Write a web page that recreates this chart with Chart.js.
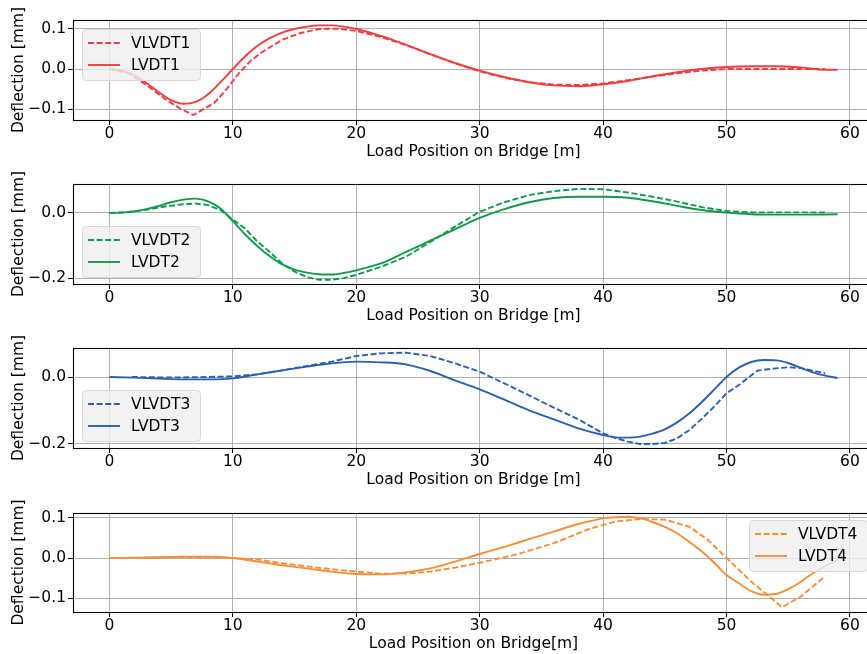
<!DOCTYPE html>
<html>
<head>
<meta charset="utf-8">
<script src="https://cdn.jsdelivr.net/npm/chart.js@4.4.0/dist/chart.umd.min.js"></script>
<style>
  html, body { margin: 0; padding: 0; background: #fff; overflow: hidden; }
  body { width: 867px; height: 654px; position: relative; }
  .panel { position: absolute; left: 0; }
</style>
</head>
<body>
<div class="panel" style="top:0px"><canvas id="c1" width="875" height="163"></canvas></div>
<div class="panel" style="top:164px"><canvas id="c2" width="875" height="163"></canvas></div>
<div class="panel" style="top:328px"><canvas id="c3" width="875" height="163"></canvas></div>
<div class="panel" style="top:493px"><canvas id="c4" width="875" height="162"></canvas></div>
<script>
// x ticks shared by all panels
const xTicks = [0, 10, 20, 30, 40, 50, 60];

// Panel 1
const lvdt1X = [0, 1, 2, 3, 4, 5, 6, 7, 8, 9, 10, 11, 12, 13, 14, 15, 16, 17, 18, 19, 20, 22, 24, 26, 28, 30, 32, 34, 36, 38, 40, 42, 44, 46, 48, 50, 52, 54, 56, 58, 59];
const lvdt1Y = [0, -0.004, -0.015, -0.035, -0.058, -0.078, -0.087, -0.082, -0.063, -0.033, 0.0, 0.032, 0.058, 0.077, 0.091, 0.1, 0.106, 0.109, 0.109, 0.106, 0.1, 0.083, 0.061, 0.037, 0.015, -0.004, -0.02, -0.033, -0.041, -0.043, -0.038, -0.03, -0.018, -0.008, 0.0, 0.005, 0.007, 0.007, 0.004, -0.002, -0.002];
const vlvdt1X = [0, 1.5, 3, 4.5, 5.8, 6.8, 8.5, 9.5, 10.5, 11.5, 12.5, 14, 15.5, 17, 18.5, 20, 22, 24, 26, 28, 30, 32, 34, 36, 38, 40, 42, 44, 46, 48, 50, 52, 54, 56, 58];
const vlvdt1Y = [0, -0.01, -0.04, -0.075, -0.1, -0.115, -0.085, -0.05, -0.01, 0.022, 0.045, 0.073, 0.09, 0.1, 0.101, 0.095, 0.08, 0.06, 0.037, 0.014, -0.006, -0.022, -0.033, -0.039, -0.04, -0.036, -0.028, -0.019, -0.011, -0.004, 0.0, 0.0, 0.0, 0.0, 0.0];
const yTicks1 = [-0.1, 0.0, 0.1];

// Panel 2
const lvdt2X = [0, 1, 2, 3, 4, 5, 6, 7, 8, 9, 10, 11, 12, 13, 14, 15, 16, 17, 18, 19, 20, 22, 24, 26, 28, 30, 32, 34, 36, 38, 40, 42, 44, 46, 48, 50, 52, 54, 56, 59];
const lvdt2Y = [0, 0.001, 0.005, 0.012, 0.022, 0.033, 0.041, 0.044, 0.036, 0.014, -0.025, -0.066, -0.102, -0.133, -0.158, -0.174, -0.183, -0.188, -0.189, -0.184, -0.176, -0.155, -0.12, -0.085, -0.05, -0.015, 0.012, 0.033, 0.046, 0.05, 0.05, 0.047, 0.036, 0.022, 0.009, 0.001, -0.004, -0.005, -0.005, -0.004];
const vlvdt2X = [0, 1.5, 3, 4.5, 6, 7, 8, 9, 10, 11, 12, 13, 14, 15, 16, 17, 18, 19, 20, 22, 24, 26, 28, 30, 32, 34, 36, 38, 40, 42, 44, 46, 48, 50, 52, 54, 56, 58];
const vlvdt2Y = [0, 0.003, 0.01, 0.02, 0.027, 0.029, 0.024, 0.009, -0.02, -0.048, -0.088, -0.12, -0.155, -0.18, -0.197, -0.205, -0.205, -0.2, -0.19, -0.165, -0.135, -0.089, -0.042, 0.004, 0.033, 0.055, 0.067, 0.074, 0.073, 0.063, 0.05, 0.035, 0.018, 0.006, 0.002, 0.002, 0.002, 0.002];
const yTicks2 = [-0.2, 0.0];

// Panel 3
const lvdt3X = [0, 2, 4, 6, 8, 10, 12, 14, 16, 18, 20, 22, 24, 26, 28, 30, 32, 34, 36, 38, 40, 41, 42, 43, 44, 45, 46, 47, 48, 49, 50, 51, 52, 53, 54, 55, 56, 57, 58, 59];
const lvdt3Y = [0, -0.002, -0.005, -0.007, -0.007, -0.004, 0.008, 0.02, 0.031, 0.041, 0.046, 0.044, 0.038, 0.018, -0.01, -0.037, -0.068, -0.1, -0.127, -0.154, -0.174, -0.181, -0.182, -0.179, -0.17, -0.157, -0.136, -0.109, -0.075, -0.038, 0.0, 0.028, 0.045, 0.051, 0.05, 0.042, 0.028, 0.014, 0.004, -0.003];
const vlvdt3X = [1.8, 4, 6, 8, 10, 12, 14, 16, 18, 20, 22, 24, 26, 28, 30, 32, 34, 36, 38, 40, 41, 42, 43, 44, 45, 46, 47, 48, 49, 50, 51, 52.5, 54, 55, 56, 57, 58];
const vlvdt3Y = [0, -0.001, -0.001, 0.0, 0.002, 0.008, 0.02, 0.033, 0.046, 0.063, 0.071, 0.073, 0.063, 0.041, 0.016, -0.019, -0.055, -0.092, -0.127, -0.169, -0.183, -0.194, -0.201, -0.201, -0.198, -0.184, -0.159, -0.125, -0.089, -0.049, -0.024, 0.019, 0.026, 0.029, 0.027, 0.019, 0.011];
const yTicks3 = [-0.2, 0.0];

// Panel 4
const lvdt4X = [0, 2, 4, 6, 8, 10, 12, 14, 16, 18, 20, 22, 24, 26, 28, 30, 32, 34, 36, 38, 40, 41, 42, 43, 44, 45, 46, 47, 48, 49, 50, 51, 52, 53, 54, 55, 56, 57, 58, 59];
const lvdt4Y = [0, 0.001, 0.002, 0.003, 0.003, 0.0, -0.009, -0.018, -0.026, -0.034, -0.04, -0.041, -0.036, -0.026, -0.009, 0.01, 0.028, 0.047, 0.066, 0.085, 0.099, 0.102, 0.103, 0.099, 0.09, 0.078, 0.062, 0.04, 0.016, -0.012, -0.0425, -0.063, -0.083, -0.092, -0.09, -0.078, -0.06, -0.038, -0.02, -0.005];
const vlvdt4X = [0, 2, 4, 6, 8, 10, 12, 14, 16, 18, 20, 22, 24, 26, 28, 30, 33, 36, 39, 41, 43, 45, 47, 48.5, 50, 52, 54.5, 56, 58];
const vlvdt4Y = [0, 0.0, 0.001, 0.002, 0.001, 0.0, -0.004, -0.013, -0.021, -0.028, -0.034, -0.039, -0.039, -0.034, -0.024, -0.012, 0.009, 0.037, 0.074, 0.091, 0.0975, 0.096, 0.078, 0.045, 0.0, -0.059, -0.123, -0.097, -0.045];
const yTicks4 = [-0.1, 0.0, 0.1];

const RED = "#f03e40";
const GREEN = "#119a4c";
const BLUE = "#2b5fb4";
const ORANGE = "#f78e3a";

const FONT_SIZE = 15.5;
Chart.defaults.font.family = "'DejaVu Sans', sans-serif";
Chart.defaults.font.size = FONT_SIZE;
Chart.defaults.color = "#000";

const pts = (xs, ys) => xs.map((x, i) => ({ x: x, y: ys[i] }));
const fmt = v => (v < 0 ? "\u2212" : "") + Math.abs(v).toFixed(1);

// black frame around the axes + matplotlib-like legend inside the plot
const framePlugin = {
  id: "frameLegend",
  afterDatasetsDraw(chart, args, opts) {
    const { ctx, chartArea: a } = chart;
    ctx.save();
    ctx.strokeStyle = "#000";
    ctx.lineWidth = 1.1;
    ctx.strokeRect(a.left + 0.5, a.top + 0.5, a.right - a.left, a.bottom - a.top);

    const w = 118, h = 51;
    let bx = a.left + 9, by = a.top + 9;
    if (opts.corner === "bl") by = a.bottom - 7 - h;
    if (opts.corner === "tr") { bx = a.right - 7 - w; by = a.top + 7; }
    ctx.fillStyle = "rgba(238,240,240,0.8)";
    ctx.strokeStyle = "#d6d9d9";
    ctx.lineWidth = 1;
    ctx.beginPath();
    ctx.roundRect(bx + 0.5, by + 0.5, w, h, 4);
    ctx.fill();
    ctx.stroke();

    chart.data.datasets.forEach((ds, i) => {
      const y = by + 14 + i * 22;
      ctx.strokeStyle = ds.borderColor;
      ctx.lineWidth = ds.borderWidth;
      ctx.setLineDash(ds.borderDash || []);
      ctx.beginPath();
      ctx.moveTo(bx + 6, y);
      ctx.lineTo(bx + 38, y);
      ctx.stroke();
      ctx.setLineDash([]);
      ctx.fillStyle = "#000";
      ctx.font = FONT_SIZE + "px 'DejaVu Sans'";
      ctx.textBaseline = "middle";
      ctx.fillText(ds.label, bx + 49, y + 1);
    });
    ctx.restore();
  }
};

function makePanel(id, color, n, vx, vy, lx, ly, yMin, yMax, yTicks, corner, xTitle) {
  return new Chart(document.getElementById(id), {
    type: "line",
    data: {
      datasets: [
        {
          label: "VLVDT" + n,
          data: pts(vx, vy),
          borderColor: color,
          borderWidth: 1.9,
          borderDash: [6, 2.6],
          pointRadius: 0,
          tension: 0
        },
        {
          label: "LVDT" + n,
          data: pts(lx, ly),
          borderColor: color,
          borderWidth: 1.9,
          pointRadius: 0,
          cubicInterpolationMode: "monotone"
        }
      ]
    },
    options: {
      responsive: false,
      animation: false,
      layout: { padding: { top: 20, right: 1, left: 0, bottom: 0 } },
      plugins: {
        legend: { display: false },
        tooltip: { enabled: false },
        frameLegend: { corner: corner }
      },
      scales: {
        x: {
          type: "linear",
          min: -2.95,
          max: 61.95,
          afterBuildTicks: s => { s.ticks = xTicks.map(v => ({ value: v })); },
          afterFit: s => { s.height = 43; },
          border: { display: false },
          grid: { color: "#b0b0b0", lineWidth: 1, tickLength: 5, tickColor: "#000" },
          ticks: { padding: 0, maxRotation: 0, callback: v => String(v) },
          title: { display: true, text: xTitle, padding: { top: 0, bottom: 1.5 } }
        },
        y: {
          min: yMin,
          max: yMax,
          afterBuildTicks: s => { s.ticks = yTicks.map(v => ({ value: v })); },
          afterFit: s => { s.width = 73; },
          border: { display: false },
          grid: { color: "#b0b0b0", lineWidth: 1, tickLength: 5, tickColor: "#000" },
          ticks: { padding: 2, callback: v => fmt(v) },
          title: { display: true, text: "Deflection [mm]", padding: { top: 10, bottom: 0 } }
        }
      }
    },
    plugins: [framePlugin]
  });
}

makePanel("c1", RED, 1, vlvdt1X, vlvdt1Y, lvdt1X, lvdt1Y, -0.1275, 0.1225, yTicks1, "tl", "Load Position on Bridge [m]");
makePanel("c2", GREEN, 2, vlvdt2X, vlvdt2Y, lvdt2X, lvdt2Y, -0.218, 0.089, yTicks2, "bl", "Load Position on Bridge [m]");
makePanel("c3", BLUE, 3, vlvdt3X, vlvdt3Y, lvdt3X, lvdt3Y, -0.213, 0.087, yTicks3, "bl", "Load Position on Bridge [m]");
makePanel("c4", ORANGE, 4, vlvdt4X, vlvdt4Y, lvdt4X, lvdt4Y, -0.135, 0.1125, yTicks4, "tr", "Load Position on Bridge[m]");
</script>
</body>
</html>
